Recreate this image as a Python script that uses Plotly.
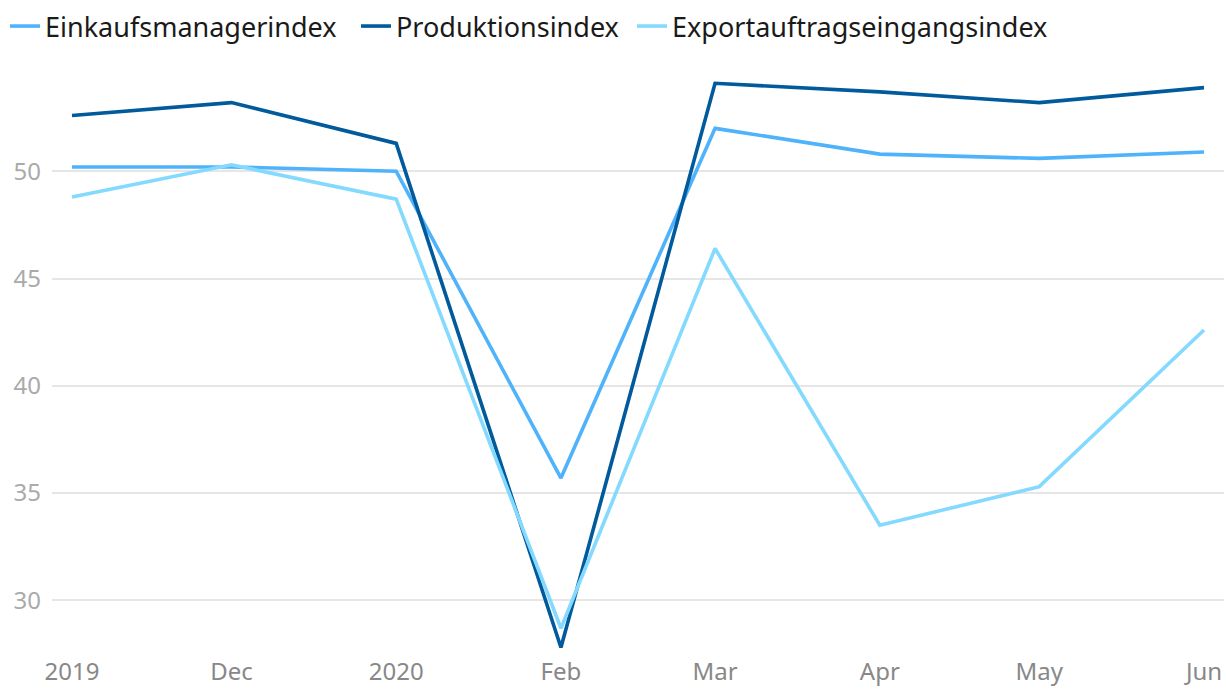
import plotly.graph_objects as go

dates = ["2019-11-01", "2019-12-01", "2020-01-01", "2020-02-01",
         "2020-03-01", "2020-04-01", "2020-05-01", "2020-06-01"]
tick_labels = ["2019", "Dec", "2020", "Feb", "Mar", "Apr", "May", "Jun"]

einkauf = [50.2, 50.2, 50.0, 35.7, 52.0, 50.8, 50.6, 50.9]
produktion = [52.6, 53.2, 51.3, 27.8, 54.1, 53.7, 53.2, 53.9]
export = [48.8, 50.3, 48.7, 28.7, 46.4, 33.5, 35.3, 42.6]

series = [
    ("Einkaufsmanagerindex", einkauf, "#4fb3fb", "legend"),
    ("Produktionsindex", produktion, "#005a9c", "legend2"),
    ("Exportauftragseingangsindex", export, "#84dafe", "legend3"),
]
legend_x_px = {"legend": 5, "legend2": 356, "legend3": 632}

fig = go.Figure()
for name, vals, color, lg in series:
    fig.add_trace(go.Scatter(x=dates, y=vals, name=name, mode="lines",
                             legend=lg,
                             line=dict(color=color, width=3.6)))

legend_common = dict(orientation="h", xref="container", xanchor="left",
                     yref="container", y=1 - 2 / 689, yanchor="top",
                     font=dict(size=27, color="#1a1a1a"), itemwidth=30,
                     bgcolor="rgba(0,0,0,0)")

fig.update_layout(
    width=1226, height=689,
    paper_bgcolor="white", plot_bgcolor="white",
    margin=dict(l=52, r=2, t=64, b=35, autoexpand=False),
    font=dict(family="Noto Sans", size=22, color="#222"),
    legend=dict(x=legend_x_px["legend"] / 1226, **legend_common),
    legend2=dict(x=legend_x_px["legend2"] / 1226, **legend_common),
    legend3=dict(x=legend_x_px["legend3"] / 1226, **legend_common),
    showlegend=True,
)
fig.update_xaxes(
    type="date", automargin=False,
    range=["2019-10-28 05:41", "2020-06-04 18:19"],
    tickvals=dates, ticktext=tick_labels,
    showgrid=False, zeroline=False, showline=False, ticks="",
    ticklabelstandoff=1,
    tickfont=dict(size=24, color="#888"),
)
fig.update_yaxes(
    range=[27.5, 55.0], automargin=False,
    tickvals=[30, 35, 40, 45, 50],
    showgrid=True, gridcolor="#e6e6e6", gridwidth=1.5,
    zeroline=False, showline=False, ticks="",
    ticklabelstandoff=10,
    tickfont=dict(size=24, color="#aaa"),
)

fig.write_html(
    "out.html",
    config={"displayModeBar": False},
    post_script="document.body.style.margin='0';document.body.style.overflow='hidden';",
)
